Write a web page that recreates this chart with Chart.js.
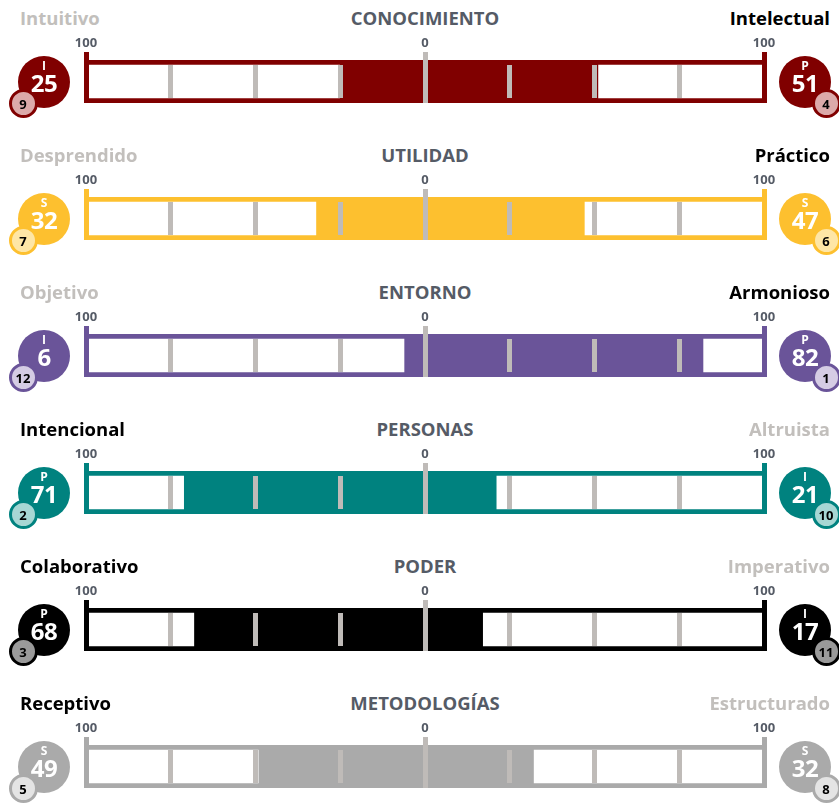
<!DOCTYPE html>
<html>
<head>
<meta charset="utf-8">
<script src="https://cdn.jsdelivr.net/npm/chart.js@4.4.1/dist/chart.umd.min.js"></script>
<style>
  html,body{margin:0;padding:0;background:#fff;}
  body{width:839px;height:803px;position:relative;overflow:hidden;font-family:"Open Sans",sans-serif;font-weight:700;}
  .lbl{position:absolute;font-size:18.5px;line-height:18px;white-space:nowrap;}
  .title{position:absolute;font-size:18.5px;line-height:18px;color:#555b66;width:400px;text-align:center;}
  canvas{position:absolute;left:0;}
  .big{position:absolute;width:52px;height:52px;border-radius:50%;color:#fff;}
  .big .let{position:absolute;left:0;width:100%;text-align:center;font-size:12px;line-height:12px;top:4px;}
  .big .num{position:absolute;left:0;width:100%;text-align:center;font-size:24px;line-height:24px;top:15px;letter-spacing:-0.5px;}
  .small{position:absolute;width:29px;height:29px;border-radius:50%;box-sizing:border-box;border:3px solid;color:#000;font-size:13px;line-height:25px;text-align:center;}
</style>
</head>
<body>
<script>
// ---- data ----
const categories   = ['CONOCIMIENTO','UTILIDAD','ENTORNO','PERSONAS','PODER','METODOLOGÍAS'];
const leftLabels   = ['Intuitivo','Desprendido','Objetivo','Intencional','Colaborativo','Receptivo'];
const rightLabels  = ['Intelectual','Práctico','Armonioso','Altruista','Imperativo','Estructurado'];
const leftValues   = [25, 32, 6, 71, 68, 49];
const rightValues  = [51, 47, 82, 21, 17, 32];
const leftLetters  = ['I','S','I','P','P','S'];
const rightLetters = ['P','S','P','I','I','S'];
const leftRanks    = [9, 7, 12, 2, 3, 5];
const rightRanks   = [4, 6, 1, 10, 11, 8];
const axisTicks    = [-100, 0, 100];
const innerGridValues = [-75, -50, -25, 25, 50, 75];

// ---- styles ----
const rowColors   = ['#800000','#fdc02f','#6a5499','#00827f','#000000','#aaaaaa'];
const lightColors = ['#dcaaaa','#fee6a6','#d5cce4','#a7d7d4','#9a9a9a','#e4e4e4'];
const gridGray = '#bfbbb8';
const inactive = '#c2bfbc';
const ROW = 137;

const innerGrid = {
  id: 'innerGrid',
  afterDatasetsDraw(chart, args, opts) {
    const {ctx, chartArea: a, scales: {x}} = chart;
    ctx.save();
    ctx.strokeStyle = opts.color;
    ctx.lineWidth = opts.width;
    opts.values.forEach(v => {
      const px = Math.round(x.getPixelForValue(v) - opts.width / 2) + opts.width / 2;
      ctx.beginPath();
      ctx.moveTo(px, a.top + opts.inset);
      ctx.lineTo(px, a.bottom - opts.inset);
      ctx.stroke();
    });
    ctx.restore();
  }
};

function el(cls, text, style) {
  const d = document.createElement('div');
  d.className = cls;
  if (text !== undefined) d.textContent = text;
  Object.assign(d.style, style || {});
  document.body.appendChild(d);
  return d;
}

function bigCircle(cx, cy, color, letter, num) {
  const d = el('big', undefined, {left: (cx - 26) + 'px', top: (cy - 26) + 'px', background: color});
  const l = document.createElement('div'); l.className = 'let'; l.textContent = letter; d.appendChild(l);
  const n = document.createElement('div'); n.className = 'num'; n.textContent = num; d.appendChild(n);
}
function smallCircle(cx, cy, color, light, num) {
  el('small', String(num), {left: (cx - 14.5) + 'px', top: (cy - 14.5) + 'px', background: light, borderColor: color});
}

categories.forEach((cat, i) => {
  const top = i * ROW;
  const color = rowColors[i];
  const leftWins = leftValues[i] > rightValues[i];

  el('lbl', leftLabels[i], {left: '20px', top: (top + 9) + 'px', color: leftWins ? '#000' : inactive});
  el('lbl', rightLabels[i], {right: '9px', top: (top + 9) + 'px', color: leftWins ? inactive : '#000', textAlign: 'right'});
  el('title', cat, {left: '225px', top: (top + 9) + 'px'});

  const cv = document.createElement('canvas');
  cv.width = 839; cv.height = 83;
  cv.style.top = (top + 30) + 'px';
  cv.style.width = '839px'; cv.style.height = '83px';
  document.body.appendChild(cv);

  new Chart(cv, {
    type: 'bar',
    data: {
      labels: [cat],
      datasets: [
        {
          data: [[axisTicks[0], axisTicks[2]]],
          backgroundColor: '#ffffff',
          borderColor: color,
          borderWidth: {top: 5, bottom: 5, left: 0, right: 0},
          borderSkipped: false,
          grouped: false,
          order: 2,
          barPercentage: 1, categoryPercentage: 1
        },
        {
          data: [[-leftValues[i], rightValues[i]]],
          backgroundColor: color,
          borderWidth: 0,
          grouped: false,
          order: 1,
          barPercentage: 1, categoryPercentage: 1
        }
      ]
    },
    options: {
      indexAxis: 'y',
      responsive: false,
      animation: false,
      devicePixelRatio: 1,
      layout: {padding: {left: 86, right: 75, top: 0, bottom: 10}},
      plugins: {
        legend: {display: false},
        tooltip: {enabled: false},
        innerGrid: {values: innerGridValues, color: gridGray, width: 5, inset: 5}
      },
      scales: {
        x: {
          type: 'linear',
          position: 'top',
          min: axisTicks[0], max: axisTicks[2],
          afterBuildTicks: s => { s.ticks = axisTicks.map(v => ({value: v})); },
          afterFit: s => { s.height = 30; },
          ticks: {
            callback: v => Math.abs(v),
            font: {family: 'Open Sans', weight: 'bold', size: 13},
            color: '#555b66',
            padding: 1,
            maxRotation: 0,
            autoSkip: false
          },
          grid: {
            color: c => (c.tick && c.tick.value === 0) ? gridGray : color,
            lineWidth: 5,
            tickLength: 8,
            z: 2
          },
          border: {display: false}
        },
        y: {display: false}
      }
    },
    plugins: [innerGrid]
  });

  bigCircle(44, top + 82, color, leftLetters[i], leftValues[i]);
  smallCircle(23, top + 103, color, lightColors[i], leftRanks[i]);
  bigCircle(805, top + 82, color, rightLetters[i], rightValues[i]);
  smallCircle(826, top + 103, color, lightColors[i], rightRanks[i]);
});
</script>
</body>
</html>
